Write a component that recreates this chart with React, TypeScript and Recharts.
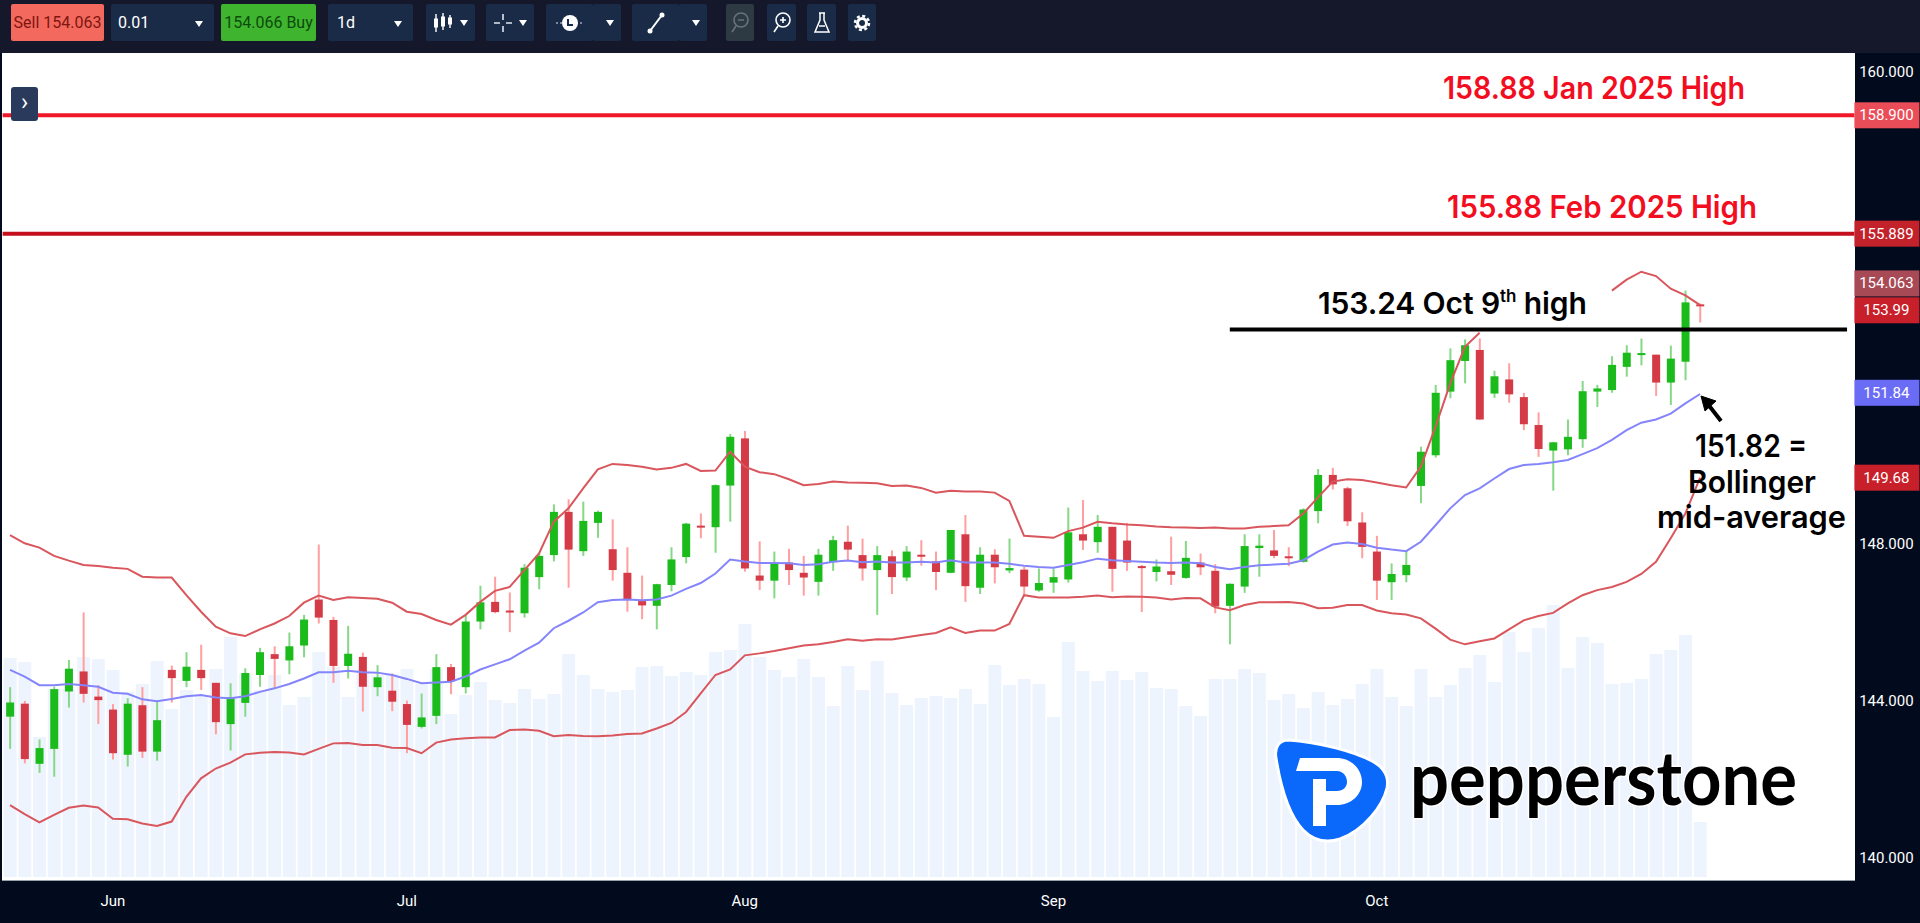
import React from "react";
import { Bar, ComposedChart, Line, ReferenceLine, XAxis, YAxis } from "recharts";

const dates = [
  "May 23", "May 26", "May 27", "May 28", "May 29", "May 30",
  "Jun 2", "Jun 3", "Jun 4", "Jun 5", "Jun 6", "Jun 9", "Jun 10", "Jun 11", "Jun 12", "Jun 13",
  "Jun 16", "Jun 17", "Jun 18", "Jun 19", "Jun 20", "Jun 23", "Jun 24", "Jun 25", "Jun 26", "Jun 27", "Jun 30",
  "Jul 1", "Jul 2", "Jul 3", "Jul 4", "Jul 7", "Jul 8", "Jul 9", "Jul 10", "Jul 11",
  "Jul 14", "Jul 15", "Jul 16", "Jul 17", "Jul 18", "Jul 21", "Jul 22", "Jul 23", "Jul 24", "Jul 25",
  "Jul 28", "Jul 29", "Jul 30", "Jul 31",
  "Aug 1", "Aug 4", "Aug 5", "Aug 6", "Aug 7", "Aug 8", "Aug 11", "Aug 12", "Aug 13", "Aug 14", "Aug 15",
  "Aug 18", "Aug 19", "Aug 20", "Aug 21", "Aug 22", "Aug 25", "Aug 26", "Aug 27", "Aug 28", "Aug 29",
  "Sep 1", "Sep 2", "Sep 3", "Sep 4", "Sep 5", "Sep 8", "Sep 9", "Sep 10", "Sep 11", "Sep 12",
  "Sep 15", "Sep 16", "Sep 17", "Sep 18", "Sep 19", "Sep 22", "Sep 23", "Sep 24", "Sep 25", "Sep 26",
  "Sep 29", "Sep 30",
  "Oct 1", "Oct 2", "Oct 3", "Oct 6", "Oct 7", "Oct 8", "Oct 9", "Oct 10",
  "Oct 13", "Oct 14", "Oct 15", "Oct 16", "Oct 17", "Oct 20", "Oct 21", "Oct 22", "Oct 23", "Oct 24",
  "Oct 27", "Oct 28", "Oct 29", "Oct 30", "Oct 31",
  // empty space to the right of the last candle
  "Nov 3", "Nov 4", "Nov 5", "Nov 6", "Nov 7", "Nov 10", "Nov 11", "Nov 12", "Nov 13", "Nov 14",
];

// open, high, low, close
const candles = [
  [143.6, 144.35, 142.78, 143.96], [143.93, 144.0, 142.41, 142.52], [142.4, 143.02, 142.17, 142.8], [142.78, 144.36, 142.07, 144.3],
  [144.24, 145.04, 143.83, 144.82], [144.75, 146.25, 143.96, 144.18], [144.11, 144.4, 143.41, 144.02], [143.78, 143.92, 142.51, 142.67],
  [142.63, 144.07, 142.33, 143.93], [143.89, 144.35, 142.55, 142.71], [142.71, 143.98, 142.48, 143.51], [144.79, 144.9, 143.96, 144.58],
  [144.51, 145.24, 144.35, 144.87], [144.79, 145.43, 144.28, 144.58], [144.46, 144.46, 143.15, 143.46], [143.41, 144.45, 142.74, 144.09],
  [143.95, 144.83, 143.6, 144.71], [144.66, 145.35, 144.36, 145.24], [145.19, 145.39, 144.32, 145.07], [145.03, 145.74, 144.68, 145.39],
  [145.41, 146.19, 145.11, 146.07], [146.58, 147.98, 145.97, 146.12], [146.06, 146.14, 144.46, 144.89], [144.89, 145.91, 144.57, 145.2],
  [145.12, 145.23, 143.73, 144.36], [144.35, 144.91, 144.12, 144.6], [144.26, 144.7, 143.74, 143.98], [143.92, 144.01, 142.67, 143.39],
  [143.34, 144.19, 143.3, 143.58], [143.62, 145.19, 143.41, 144.86], [144.86, 144.94, 144.17, 144.5], [144.35, 146.19, 144.19, 146.02],
  [146.02, 146.93, 145.82, 146.51], [146.52, 147.16, 146.23, 146.26], [146.3, 146.76, 145.75, 146.25], [146.23, 147.48, 146.12, 147.39],
  [147.15, 147.78, 146.84, 147.69], [147.71, 149.0, 147.55, 148.81], [148.81, 149.13, 146.88, 147.85], [147.81, 149.07, 147.69, 148.58],
  [148.53, 148.84, 148.15, 148.81], [147.86, 148.62, 147.06, 147.33], [147.26, 147.91, 146.27, 146.59], [146.54, 147.19, 146.08, 146.43],
  [146.42, 146.98, 145.82, 146.97], [146.95, 147.91, 146.79, 147.6], [147.66, 148.53, 147.5, 148.51], [148.46, 148.77, 148.14, 148.41],
  [148.42, 149.51, 147.77, 149.49], [149.48, 150.79, 148.56, 150.72], [150.68, 150.87, 147.29, 147.37], [147.19, 148.06, 146.82, 147.06],
  [147.06, 147.8, 146.61, 147.52], [147.52, 147.87, 146.95, 147.33], [147.26, 147.69, 146.68, 147.14], [147.03, 147.87, 146.68, 147.72],
  [147.53, 148.2, 147.31, 148.09], [148.05, 148.46, 147.58, 147.85], [147.71, 148.13, 147.06, 147.37], [147.33, 147.94, 146.19, 147.71],
  [147.68, 147.83, 146.72, 147.15], [147.14, 147.94, 147.05, 147.8], [147.72, 148.09, 147.44, 147.67], [147.55, 147.8, 146.82, 147.28],
  [147.26, 148.35, 147.25, 148.35], [148.24, 148.73, 146.52, 146.92], [146.88, 147.91, 146.72, 147.72], [147.72, 147.86, 146.99, 147.4],
  [147.32, 148.13, 147.25, 147.38], [147.34, 147.41, 146.7, 146.91], [146.81, 147.37, 146.78, 147.0], [147.01, 147.37, 146.75, 147.15],
  [147.09, 148.92, 147.01, 148.29], [148.24, 149.11, 147.84, 148.08], [148.04, 148.73, 147.77, 148.43], [148.43, 148.43, 146.78, 147.36],
  [148.08, 148.53, 147.31, 147.52], [147.43, 147.46, 146.26, 147.39], [147.28, 147.6, 147.04, 147.42], [147.3, 148.18, 146.95, 147.21],
  [147.13, 148.07, 147.11, 147.64], [147.52, 147.75, 147.2, 147.4], [147.31, 147.48, 146.23, 146.4], [146.42, 146.99, 145.44, 146.98],
  [146.91, 148.24, 146.75, 147.94], [147.89, 148.24, 147.16, 147.95], [147.83, 148.35, 147.63, 147.69], [147.68, 147.91, 147.43, 147.63],
  [147.54, 148.9, 147.52, 148.87], [148.83, 149.9, 148.52, 149.75], [149.75, 149.93, 149.38, 149.51], [149.41, 149.45, 148.45, 148.57],
  [148.54, 148.8, 147.63, 147.92], [147.8, 148.2, 146.57, 147.06], [147.02, 147.5, 146.57, 147.23], [147.2, 147.82, 147.02, 147.46],
  [149.47, 150.47, 149.03, 150.34], [150.25, 152.04, 150.19, 151.84], [151.87, 152.97, 151.7, 152.67], [152.65, 153.2, 152.08, 153.05],
  [152.93, 153.22, 151.15, 151.16], [151.82, 152.4, 151.71, 152.26], [152.18, 152.59, 151.59, 151.8], [151.73, 151.84, 150.89, 151.04],
  [151.02, 151.34, 150.21, 150.41], [150.37, 150.59, 149.35, 150.58], [150.4, 151.16, 150.25, 150.72], [150.66, 152.14, 150.44, 151.88],
  [151.87, 152.04, 151.48, 151.95], [151.91, 152.77, 151.84, 152.55], [152.5, 153.05, 152.25, 152.86], [152.81, 153.22, 152.54, 152.85],
  [152.81, 152.81, 151.76, 152.1], [152.1, 153.04, 151.53, 152.71], [152.63, 154.44, 152.16, 154.14], [154.09, 154.11, 153.63, 154.04],
];

const volumes = [
  219, 215, 140, 188, 188, 220, 218, 207, 185, 193, 216, 168, 187, 182, 208, 240, 203, 187, 202, 172, 180, 225, 210, 180, 207, 202, 203, 208, 193,
  208, 163, 182, 195, 177, 174, 188, 178, 183, 223, 202, 188, 185, 187, 210, 211, 201, 205, 202, 225, 227, 253, 220, 207, 200, 218, 200, 171, 211,
  187, 216, 184, 172, 179, 181, 179, 188, 173, 212, 192, 198, 193, 160, 235, 206, 196, 206, 197, 205, 189, 188, 171, 161, 198, 198, 208, 204, 177,
  183, 169, 185, 172, 178, 193, 208, 180, 171, 208, 180, 192, 209, 222, 195, 245, 225, 249, 272, 209, 240, 234, 193, 194, 198, 223, 227, 242, 55,
];

const upperBand = [
  148.22, 148.01, 147.9, 147.69, 147.57, 147.46, 147.43, 147.39, 147.36, 147.16, 147.14, 147.14, 146.69, 146.27, 145.89, 145.72, 145.65, 145.82,
  145.97, 146.16, 146.5, 146.68, 146.57, 146.64, 146.62, 146.6, 146.5, 146.27, 146.21, 146.06, 145.94, 146.19, 146.52, 146.8,
  146.9, 147.33, 147.75, 148.56, 148.9, 149.41, 149.89, 150.03, 150.0, 149.96, 149.89, 149.93, 150.03, 149.85, 149.86, 150.34, 149.96, 149.82,
  149.77, 149.64, 149.49, 149.52, 149.58, 149.56, 149.55, 149.54, 149.47, 149.48, 149.42, 149.3, 149.35, 149.33,
  149.33, 149.3, 149.09, 148.2, 148.18, 148.15, 148.32, 148.41, 148.56, 148.52, 148.49, 148.47, 148.44, 148.42, 148.41, 148.4, 148.41, 148.39,
  148.39, 148.43, 148.45, 148.47, 148.77, 149.18, 149.58, 149.64, 149.62, 149.56, 149.49, 149.43,
  149.96, 150.98, 152.08, 153.01, 153.37,
  // the publisher's label is pasted over this stretch of the band
  null, null, null, null, null, null, null, null,
  154.44, 154.72, 154.92, 154.81, 154.49, 154.32, 154.07,
];

const midBand = [
  144.79, 144.62, 144.4, 144.4, 144.43, 144.4, 144.36, 144.21, 144.18, 144.04, 143.99, 144.05, 144.12, 144.15, 144.09, 144.07, 144.12, 144.23,
  144.32, 144.43, 144.57, 144.73, 144.73, 144.77, 144.73, 144.72, 144.66, 144.56, 144.45, 144.47, 144.49, 144.62, 144.8,
  144.93, 145.06, 145.28, 145.48, 145.85, 146.04, 146.25, 146.51, 146.57, 146.58, 146.56, 146.58, 146.68, 146.85, 147.0, 147.24, 147.6, 147.55,
  147.51, 147.51, 147.5, 147.46, 147.48, 147.54, 147.57, 147.53, 147.55, 147.52, 147.52, 147.54, 147.52, 147.58, 147.52,
  147.52, 147.52, 147.49, 147.44, 147.41, 147.39, 147.46, 147.53, 147.62, 147.58, 147.56, 147.54, 147.52, 147.51, 147.52, 147.5, 147.41, 147.35,
  147.41, 147.45, 147.47, 147.49, 147.58, 147.8, 147.98, 148.03, 147.99, 147.9, 147.85, 147.81,
  148.05, 148.47, 148.9, 149.24, 149.41, 149.66, 149.9, 150.0, 150.03, 150.07, 150.13, 150.28, 150.43, 150.64, 150.89, 151.08, 151.16, 151.31, 151.57, 151.81,
];

const lowerBand = [
  141.35, 141.12, 140.91, 141.1, 141.28, 141.34, 141.29, 141.0, 140.99, 140.88, 140.82, 140.93, 141.56, 142.03, 142.28, 142.43, 142.64, 142.68,
  142.7, 142.69, 142.64, 142.78, 142.92, 142.93, 142.88, 142.88, 142.81, 142.8, 142.67, 142.94, 143.02, 143.05, 143.07,
  143.07, 143.26, 143.27, 143.24, 143.1, 143.13, 143.11, 143.1, 143.12, 143.16, 143.17, 143.3, 143.44, 143.72, 144.19, 144.66, 144.8, 145.16,
  145.21, 145.27, 145.34, 145.41, 145.44, 145.5, 145.57, 145.53, 145.57, 145.56, 145.62, 145.68, 145.73, 145.87, 145.73,
  145.79, 145.79, 145.96, 146.69, 146.63, 146.63, 146.63, 146.65, 146.68, 146.64, 146.66, 146.65, 146.63, 146.58, 146.62, 146.61, 146.38, 146.31,
  146.44, 146.51, 146.51, 146.52, 146.48, 146.36, 146.37, 146.44, 146.44, 146.3, 146.23, 146.2,
  146.1, 145.84, 145.56, 145.44, 145.52, 145.59, 145.82, 146.05, 146.16, 146.24, 146.48, 146.69, 146.82, 146.9, 147.03, 147.23, 147.54, 148.14, 148.77, 149.68,
];

const monthTicks = ["Jun 3", "Jul 1", "Aug 1", "Sep 1", "Oct 1"];
const priceTicks = [140, 144, 148, 149.68, 151.84, 153.99, 154.063, 155.889, 158.9, 160];
const priceTags: Record<string, { fill: string; text: string; shift?: number }> = {
  "149.68": { fill: "#c8202a", text: "149.68" },
  "151.84": { fill: "#6b6cf6", text: "151.84" },
  "153.99": { fill: "#c8202a", text: "153.99", shift: 2 },
  "154.063": { fill: "#a84a56", text: "154.063", shift: -22 },
  "155.889": { fill: "#c3222b", text: "155.889" },
  "158.9": { fill: "#ea4d58", text: "158.900" },
};

const table = dates.map((date, i) => {
  const c = candles[i];
  return {
    date,
    range: c ? [c[2], c[1]] : null,
    open: c ? c[0] : null,
    close: c ? c[3] : null,
    volume: volumes[i] ?? null,
    upper: upperBand[i] ?? null,
    mid: midBand[i] ?? null,
    lower: lowerBand[i] ?? null,
  };
});

const axisFont = "'Liberation Sans Narrow', Roboto, sans-serif";

function Candle(props: any) {
  const { x, y, width, height, payload } = props;
  if (!payload || payload.open == null || !height) return null;
  const [low, high] = payload.range;
  const perUnit = height / (high - low);
  const up = payload.close >= payload.open;
  const top = y + (high - Math.max(payload.open, payload.close)) * perUnit;
  const bodyH = Math.max(Math.abs(payload.close - payload.open) * perUnit, 2);
  const cx = x + width / 2;
  return (
    <g>
      <rect x={cx - 1} y={y} width={2} height={height} fill={up ? "#86d886" : "#ff9f9f"} />
      <rect x={cx - 4} y={top} width={8} height={bodyH} fill={up ? "#1bbb1b" : "#d53a47"} />
    </g>
  );
}

function PriceTick(props: any) {
  const { x, y, payload } = props;
  const tag = priceTags[String(payload.value)];
  const cy = y + (tag?.shift ?? 0);
  return (
    <g>
      {tag && <rect x={x} y={cy - 13} width={65} height={26} fill={tag.fill} />}
      <text x={x + 32} y={cy + 5} textAnchor="middle" fill="#fff" fontSize={15} fontFamily={axisFont}>
        {tag ? tag.text : payload.value.toFixed(3)}
      </text>
    </g>
  );
}

function Tool({ left, width, children, fill = "#1a2b47" }: any) {
  return (
    <div
      style={{
        position: "absolute", left, top: 4, width, height: 37, background: fill, borderRadius: 2,
        display: "flex", alignItems: "center", justifyContent: "center", color: "#fff",
      }}
    >
      {children}
    </div>
  );
}

const caret = (
  <svg width="10" height="8" style={{ marginLeft: 5 }}><path d="M1 1 L9 1 L5 7 Z" fill="#fff" /></svg>
);

function Toolbar() {
  const label = { fontFamily: axisFont, fontSize: 16 };
  return (
    <div style={{ position: "absolute", left: 0, top: 0, width: 1920, height: 53, background: "#14182a" }}>
      <Tool left={11} width={93} fill="#f4695d"><span style={{ ...label, color: "#7d1512" }}>Sell 154.063</span></Tool>
      <Tool left={111} width={103}>
        <span style={{ ...label, position: "absolute", left: 7 }}>0.01</span>
        <span style={{ position: "absolute", right: 10 }}>{caret}</span>
      </Tool>
      <Tool left={221} width={95} fill="#3fb52f"><span style={{ ...label, color: "#0d4a0d" }}>154.066 Buy</span></Tool>
      <Tool left={328} width={85}>
        <span style={{ ...label, position: "absolute", left: 9 }}>1d</span>
        <span style={{ position: "absolute", right: 10 }}>{caret}</span>
      </Tool>
      <Tool left={426} width={49}>
        <svg width="22" height="22" stroke="#fff" fill="#fff">
          <path d="M4 2 V20 M11 1 V18 M18 3 V16" strokeWidth="1.4" />
          <rect x="2.5" y="7" width="3" height="8" /><rect x="9.5" y="5" width="3" height="9" /><rect x="16.5" y="6" width="3" height="6" />
        </svg>
        {caret}
      </Tool>
      <Tool left={486} width={48}>
        <svg width="20" height="20" stroke="#dfe6ee" strokeWidth="1.6"><path d="M10 1 V7 M10 13 V19 M1 10 H7 M13 10 H19" /></svg>
        {caret}
      </Tool>
      <Tool left={546} width={47}>
        <svg width="30" height="20"><path d="M1 10 H29" stroke="#dfe6ee" strokeDasharray="2 2" /><circle cx="15" cy="10" r="8" fill="#fff" /><path d="M13 6 V12 H18" stroke="#1a2b47" strokeWidth="2" fill="none" /></svg>
      </Tool>
      <Tool left={593} width={28}>{caret}</Tool>
      <Tool left={632} width={47}>
        <svg width="22" height="24"><path d="M5 20 L17 4" stroke="#fff" strokeWidth="2" /><circle cx="5" cy="20" r="2.5" fill="#fff" /><circle cx="17" cy="4" r="2.5" fill="#fff" /></svg>
      </Tool>
      <Tool left={679} width={28}>{caret}</Tool>
      <Tool left={726} width={28} fill="#2d3a44">
        <svg width="20" height="24" stroke="#66737c" strokeWidth="1.6" fill="none"><circle cx="11" cy="9" r="7" /><path d="M6 15 L2 21 M8 9 H14" /></svg>
      </Tool>
      <Tool left={767} width={29}>
        <svg width="20" height="24" stroke="#fff" strokeWidth="1.6" fill="none"><circle cx="11" cy="9" r="7" /><path d="M6 15 L2 21 M8 9 H14 M11 6 V12" /></svg>
      </Tool>
      <Tool left={807} width={29}>
        <svg width="20" height="24" stroke="#fff" strokeWidth="1.5" fill="none"><path d="M7 2 H13 M8 2 V9 L3 21 H17 L12 9 V2" /><path d="M7 15 H13" /></svg>
      </Tool>
      <Tool left={848} width={28}>
        <svg width="18" height="18"><circle cx="9" cy="9" r="4.5" fill="none" stroke="#fff" strokeWidth="3" /><circle cx="9" cy="9" r="7" fill="none" stroke="#fff" strokeWidth="2.5" strokeDasharray="3 2.5" /></svg>
      </Tool>
    </div>
  );
}

function Overlay() {
  const font = "Inter, 'Noto Sans', sans-serif";
  const halo = { paintOrder: "stroke" as const, stroke: "#fff", strokeWidth: 3, strokeLinejoin: "round" as const };
  return (
    <svg width={1920} height={923} style={{ position: "absolute", left: 0, top: 0, pointerEvents: "none" }} fontFamily={font} fontWeight={600}>
      <text x={1443} y={99} fontSize={31} fill="#f20d1f" textLength={302} lengthAdjust="spacingAndGlyphs">158.88 Jan 2025 High</text>
      <text x={1447} y={218} fontSize={31} fill="#f20d1f" textLength={310} lengthAdjust="spacingAndGlyphs">155.88 Feb 2025 High</text>
      <text x={1318} y={314} fontSize={30} fill="#000" letterSpacing={-0.1}>
        153.24 Oct 9<tspan fontSize={17} dy={-12}>th</tspan><tspan dy={12}> high</tspan>
      </text>
      <text x={1695} y={457} fontSize={31} fill="#000" textLength={112} lengthAdjust="spacingAndGlyphs">151.82 =</text>
      <text x={1688} y={493} fontSize={31} fill="#000" textLength={128} lengthAdjust="spacingAndGlyphs">Bollinger</text>
      <text x={1657} y={528} fontSize={31} fill="#000" textLength={189} lengthAdjust="spacingAndGlyphs">mid-average</text>
      <path d="M1721 421 L1707 403" stroke="#000" strokeWidth={4} />
      <path d="M1701 396 L1716 401 L1705 411 Z" fill="#000" stroke="#000" />
      <g transform="translate(1275 740)">
        <path
          d="M13 0 C45 2 80 12 97 21 C110 28 114 38 112 48 C108 65 90 90 65 99 C50 104 38 100 28 90 C14 75 6 50 1 18 C-1 8 4 0 13 0 Z"
          fill="#0a68fb" stroke="#fff" strokeWidth={3}
        />
        <path d="M25 18 H62 C76 18 87 29 87 42 C87 55 76 65 62 65 H51 V51 H62 C68 51 72 47 72 42 C72 36 68 31 62 31 H21 Z" fill="#fff" />
        <rect x={38} y={39} width={13} height={47} fill="#fff" />
      </g>
      <text x={1410} y={805} fontFamily="Lato, sans-serif" fontSize={74} fontWeight={700} fill="#000" textLength={387} lengthAdjust="spacingAndGlyphs" style={halo}>pepperstone</text>
    </svg>
  );
}

export default function App() {
  return (
    <div style={{ position: "fixed", left: 0, top: 0, width: 1920, height: 923, background: "#020b1e", overflow: "hidden" }}>
      <Toolbar />
      <div style={{ position: "absolute", left: 2, top: 53, width: 1853, height: 827, background: "#fff", borderBottom: "1px solid #9aa0a8" }} />
      <div style={{ position: "absolute", left: 11, top: 87, width: 27, height: 34, background: "#2a3a5c", borderRadius: 3, zIndex: 2, color: "#fff", textAlign: "center", lineHeight: "30px", fontFamily: "Roboto", fontSize: 24 }}>
        ›
      </div>
      <ComposedChart
        width={1920}
        height={923}
        data={table}
        barSize={13}
        barGap={-13}
        margin={{ top: 54, right: 0, bottom: 0, left: 2.65 }}
        style={{ position: "absolute", left: 0, top: 0 }}
      >
        <XAxis
          dataKey="date"
          height={46}
          ticks={monthTicks}
          interval={0}
          tickLine={false}
          axisLine={false}
          tickFormatter={(d: string) => d.slice(0, 3)}
          tick={{ fill: "#fff", fontSize: 15, fontFamily: axisFont }}
          tickMargin={12}
        />
        <YAxis
          yAxisId="price"
          orientation="right"
          width={65.6}
          domain={[139.52, 160.46]}
          ticks={priceTicks}
          interval={0}
          tickLine={false}
          axisLine={false}
          tickSize={0}
          tickMargin={0}
          tick={PriceTick}
        />
        <YAxis yAxisId="vol" hide domain={[0, 823]} />
        <Bar yAxisId="vol" dataKey="volume" fill="#eef4fe" isAnimationActive={false} />
        <Bar yAxisId="price" dataKey="range" shape={Candle} isAnimationActive={false} />
        <Line yAxisId="price" dataKey="upper" stroke="#d9565c" strokeWidth={2} dot={false} connectNulls={false} isAnimationActive={false} />
        <Line yAxisId="price" dataKey="lower" stroke="#d9565c" strokeWidth={2} dot={false} isAnimationActive={false} />
        <Line yAxisId="price" dataKey="mid" stroke="#8585fb" strokeWidth={2} dot={false} isAnimationActive={false} />
        <ReferenceLine yAxisId="price" y={158.9} stroke="#f01828" strokeWidth={4} />
        <ReferenceLine yAxisId="price" y={155.889} stroke="#c40f1c" strokeWidth={4} />
        <ReferenceLine
          yAxisId="price"
          segment={[{ x: "Sep 17", y: 153.45 }, { x: "Nov 14", y: 153.45 }]}
          stroke="#000"
          strokeWidth={4}
        />
      </ComposedChart>
      <Overlay />
    </div>
  );
}
